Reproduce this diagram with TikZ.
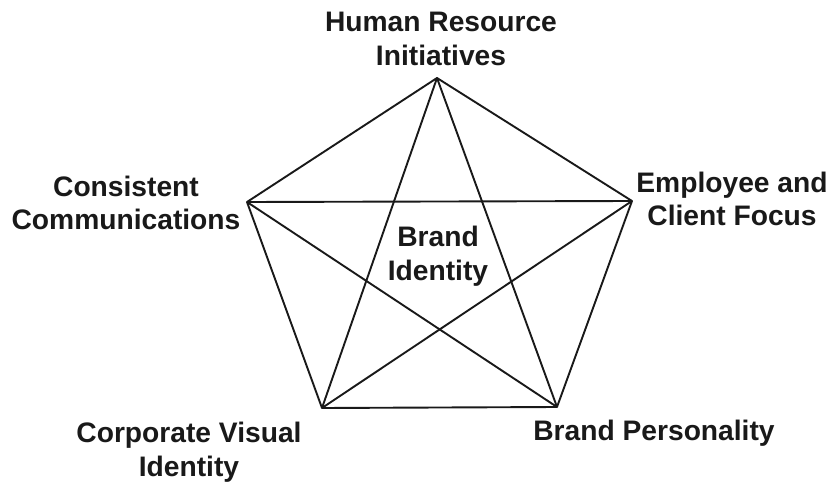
\documentclass[tikz,border=0pt]{standalone}
\usepackage{fontspec}
\setmainfont{Liberation Sans}
\begin{document}
\begin{tikzpicture}[x=1pt,y=-1pt,
  edge/.style={line width=1.9pt, draw=black!90, line join=round},
  lbl/.style={align=center, inner sep=0pt, text=black!90,
    font=\fontsize{28.2}{33.5}\selectfont\bfseries}]
\useasboundingbox (0,0) rectangle (830,484);
% corners of the pentagon
\coordinate (hr) at (437,78);
\coordinate (ec) at (632,201);
\coordinate (bp) at (557,407);
\coordinate (cv) at (322,408);
\coordinate (cc) at (247,202);
% outline
\draw[edge] (hr) -- (ec) -- (bp) -- (cv) -- (cc) -- cycle;
% star
\draw[edge] (hr) -- (bp);
\draw[edge] (hr) -- (cv);
\draw[edge] (ec) -- (cv);
\draw[edge] (ec) -- (cc);
\draw[edge] (cc) -- (bp);
% labels
\node[lbl] (thr) at (441,39) {Human Resource\\Initiatives};
\node[lbl] (tcc) at (126,203) {Consistent\\Communications};
\node[lbl] (tec) at (732,199) {Employee and\\Client Focus};
\node[lbl] (tcv) at (189,452) {Corporate Visual\\Identity};
\node[lbl] (tbp) at (654,433) {Brand Personality};
\node[lbl] (tbi) at (438,256) {Brand\\Identity};
\end{tikzpicture}
\end{document}
